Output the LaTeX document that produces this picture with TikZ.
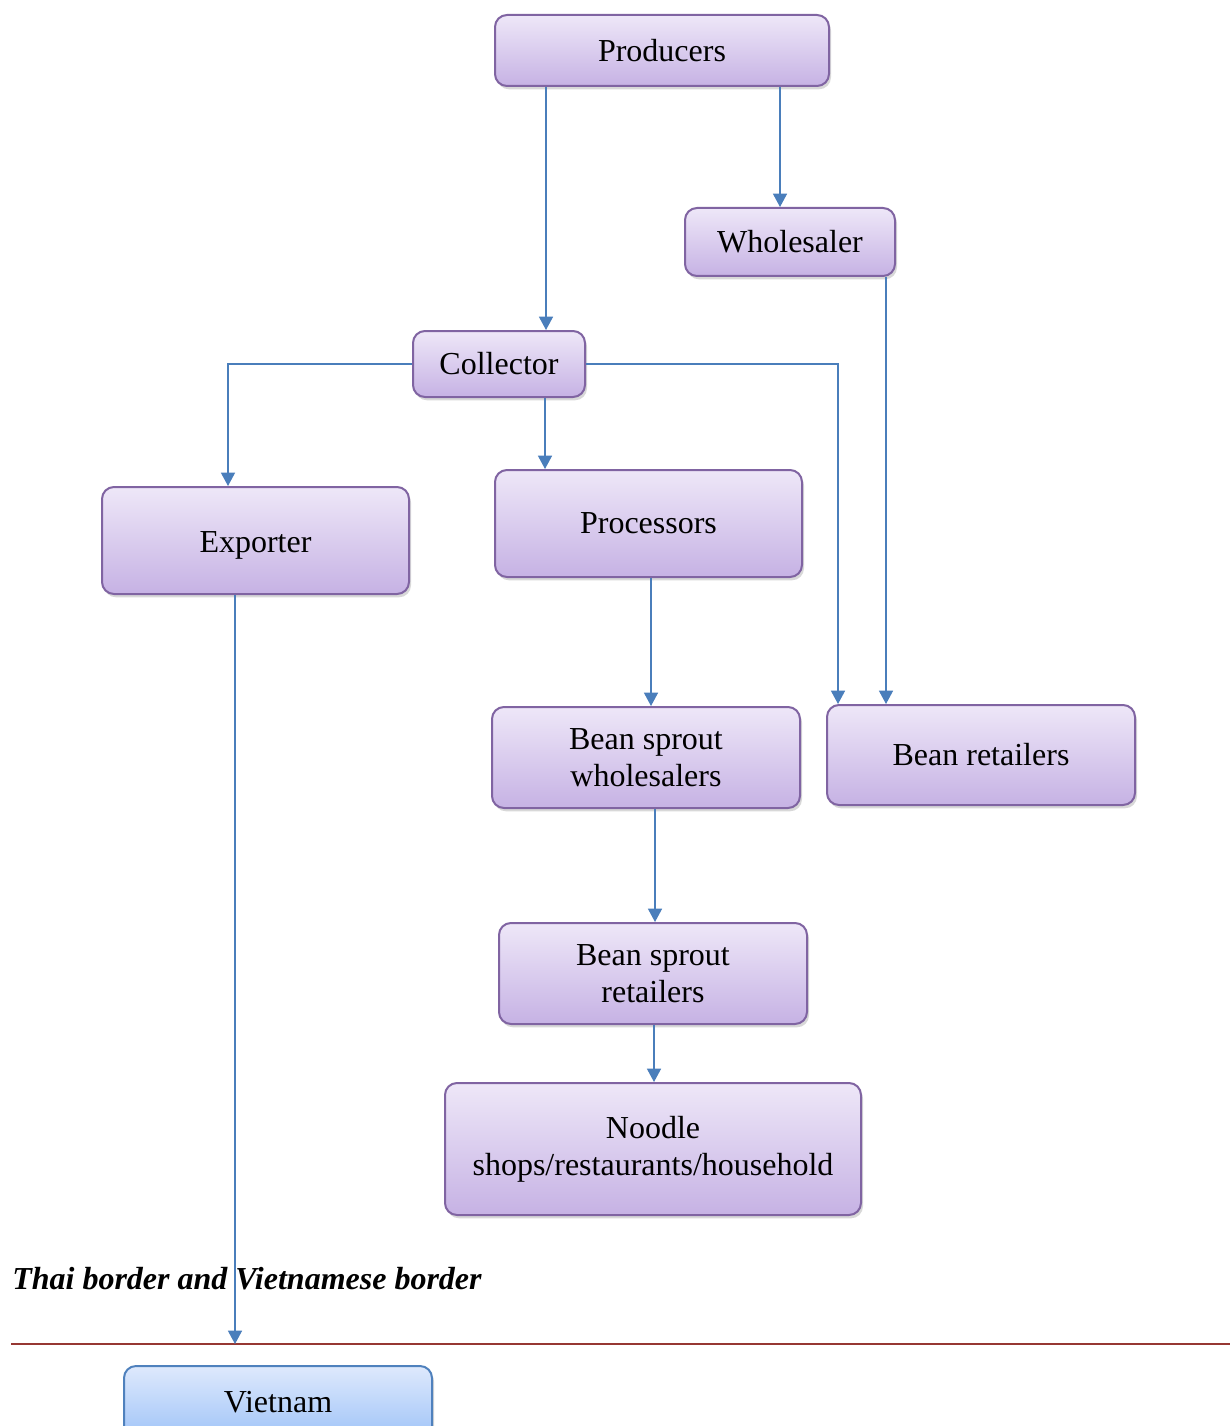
\documentclass[tikz,border=0pt]{standalone}
\usepackage{fontspec}
\setmainfont{Liberation Serif}
\usetikzlibrary{shadows,arrows.meta}
\definecolor{bord}{RGB}{128,100,162}
\definecolor{ftop}{RGB}{238,231,248}
\definecolor{fbot}{RGB}{198,178,228}
\definecolor{ln}{RGB}{74,126,187}
\definecolor{vbord}{RGB}{79,129,189}
\definecolor{vtop}{RGB}{222,233,252}
\definecolor{vbot}{RGB}{160,196,248}
\definecolor{redl}{RGB}{150,55,50}
\begin{document}
\begin{tikzpicture}[x=0.75pt,y=-0.75pt,
  box/.style={draw=bord, line width=1.5pt, rounded corners=9pt,
    top color=ftop, bottom color=fbot,
    drop shadow={opacity=0.3,shadow xshift=1.5pt,shadow yshift=-2.5pt},
    font=\fontsize{24}{27.5}\selectfont, align=center, inner sep=0pt},
  vbox/.style={box, draw=vbord, top color=vtop, bottom color=vbot},
  arr/.style={draw=ln, line width=1.1pt, -{Triangle[width=10.5pt,length=10pt]}}]
\useasboundingbox (0,0) rectangle (1230,1426);
\fill[white] (0,0) rectangle (1230,1426);

\node[box, minimum width=250.5pt, minimum height=53.25pt] (prod) at (662,50.5) {Producers};
\node[box, minimum width=157.5pt, minimum height=51pt] (whol) at (790,242) {Wholesaler};
\node[box, minimum width=129pt, minimum height=49.5pt] (coll) at (499,364) {Collector};
\node[box, minimum width=230.25pt, minimum height=80.25pt] (expo) at (255.5,540.5) {\raisebox{-4pt}[\height][\depth]{Exporter}};
\node[box, minimum width=230.25pt, minimum height=80.25pt] (proc) at (648.5,523.5) {Processors};
\node[box, minimum width=231pt, minimum height=75.75pt] (bsw) at (646,757.5) {Bean sprout\\wholesalers};
\node[box, minimum width=231pt, minimum height=75pt] (bret) at (981,755) {Bean retailers};
\node[box, minimum width=231pt, minimum height=75.75pt] (bsr) at (653,973.5) {Bean sprout\\retailers};
\node[box, minimum width=312pt, minimum height=99pt] (nood) at (653,1149) {Noodle\\shops/restaurants/household};
\node[vbox, minimum width=231pt, minimum height=54pt] (viet) at (278,1402) {Vietnam};

\node[anchor=base west, inner sep=0pt, font=\fontsize{24}{27.5}\selectfont\bfseries\itshape] (lbl) at (12,1289) {Thai border and Vietnamese border};

\coordinate (bl) at (11,1344);
\coordinate (br) at (1230,1344);
\coordinate (bt) at (235,1344);
\draw[redl, line width=2.2pt] (bl) -- (br);

\coordinate (c546) at (546,0);
\coordinate (c780) at (780,0);
\coordinate (c886) at (886,0);
\coordinate (c228) at (228,0);
\coordinate (c838) at (838,0);
\coordinate (c545) at (545,0);
\coordinate (c651) at (651,0);
\coordinate (c655) at (655,0);
\coordinate (c654) at (654,0);
\coordinate (c235) at (235,0);

\draw[arr] (prod.south -| c546) -- (coll.north -| c546);
\draw[arr] (prod.south -| c780) -- (whol.north -| c780);
\draw[arr] (whol.south -| c886) -- (bret.north -| c886);
\draw[arr] (coll.west) -- (coll.west -| c228) -- (expo.north -| c228);
\draw[arr] (coll.east) -- (coll.east -| c838) -- (bret.north -| c838);
\draw[arr] (coll.south -| c545) -- (proc.north -| c545);
\draw[arr] (proc.south -| c651) -- (bsw.north -| c651);
\draw[arr] (bsw.south -| c655) -- (bsr.north -| c655);
\draw[arr] (bsr.south -| c654) -- (nood.north -| c654);
\draw[arr] (expo.south -| c235) -- (bt);
\end{tikzpicture}
\end{document}
